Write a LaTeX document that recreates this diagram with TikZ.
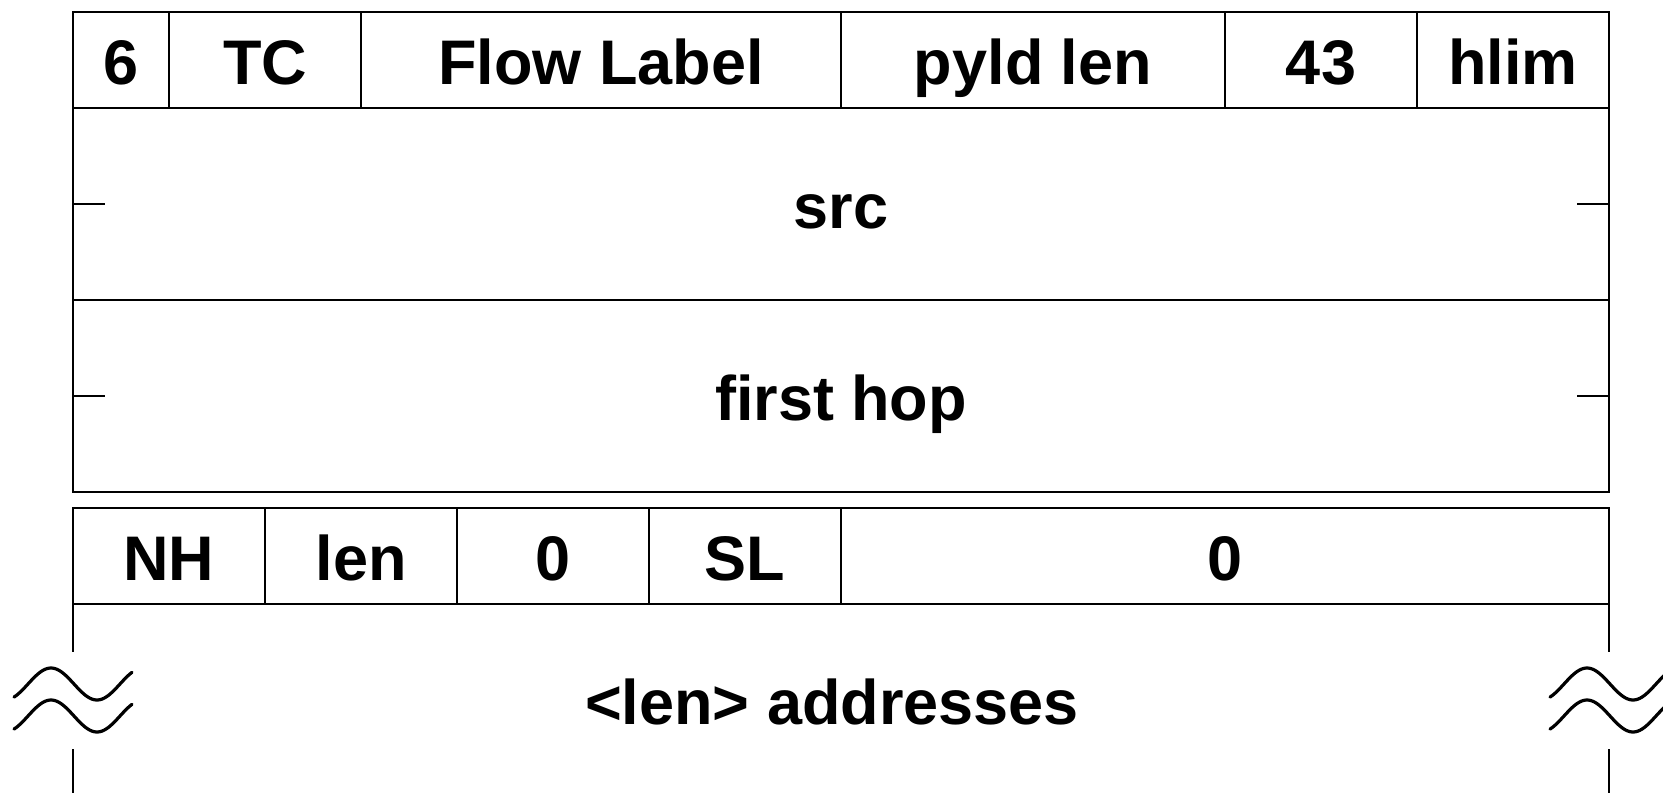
\documentclass[tikz,border=0pt]{standalone}
\usepackage{fontspec}
\setmainfont{Liberation Sans}
\begin{document}
\begin{tikzpicture}[x=1pt,y=-1pt,
  rule/.style={line width=2.4pt,black},
  wave/.style={line width=3.2pt,black,line cap=round},
  cell/.style={draw,rule,rectangle,inner sep=0pt,outer sep=0pt,
    text height=48pt,text depth=0pt,
    font=\fontsize{63pt}{70pt}\selectfont\bfseries},
  lbl/.style={inner sep=0pt,outer sep=0pt,text height=48pt,text depth=0pt,
    font=\fontsize{63pt}{70pt}\selectfont\bfseries}]
\useasboundingbox (0,0) rectangle (1663,793);
% first row
\node[cell,minimum width=96pt,minimum height=96pt] (ver) at (121,60) {6};
\node[cell,minimum width=192pt,minimum height=96pt] (tc) at (265,60) {TC};
\node[cell,minimum width=480pt,minimum height=96pt] (fl) at (601,60) {Flow Label};
\node[cell,minimum width=384pt,minimum height=96pt] (pl) at (1033,60) {pyld len};
\node[cell,minimum width=192pt,minimum height=96pt] (nh43) at (1321,60) {43};
\node[cell,minimum width=192pt,minimum height=96pt] (hl) at (1513,60) {hlim};
% src and first hop
\node[cell,minimum width=1536pt,minimum height=192pt] (src) at (841,204) {src};
\node[cell,minimum width=1536pt,minimum height=192pt] (fh) at (841,396) {first hop};
\draw[rule] (src.west) -- ++(32,0);
\draw[rule] (src.east) -- ++(-32,0);
\draw[rule] (fh.west) -- ++(32,0);
\draw[rule] (fh.east) -- ++(-32,0);
% routing header row
\node[cell,minimum width=192pt,minimum height=96pt] (nh) at (169,556) {NH};
\node[cell,minimum width=192pt,minimum height=96pt] (len) at (361,556) {len};
\node[cell,minimum width=192pt,minimum height=96pt] (zero) at (553,556) {0};
\node[cell,minimum width=192pt,minimum height=96pt] (sl) at (745,556) {SL};
\node[cell,minimum width=768pt,minimum height=96pt] (res) at (1225,556) {0};
% addresses
\node[lbl] (addr) at (832,700) {<len> addresses};
\coordinate (lb1) at (73,652);
\coordinate (lb2) at (73,749);
\coordinate (lb3) at (73,793);
\coordinate (rb1) at (1609,652);
\coordinate (rb2) at (1609,749);
\coordinate (rb3) at (1609,793);
\draw[rule] (nh.south west) -- (lb1);
\draw[rule] (lb2) -- (lb3);
\draw[rule] (res.south east) -- (rb1);
\draw[rule] (rb2) -- (rb3);
% break marks
\draw[wave] plot[domain=14:132,samples=60,smooth] (\x,{684-16*cos(180*(\x-51)/46)});
\draw[wave] plot[domain=14:132,samples=60,smooth] (\x,{716-16*cos(180*(\x-51)/46)});
\draw[wave] plot[domain=1550:1668,samples=60,smooth] (\x,{684-16*cos(180*(\x-1587)/46)});
\draw[wave] plot[domain=1550:1668,samples=60,smooth] (\x,{716-16*cos(180*(\x-1587)/46)});
\end{tikzpicture}
\end{document}
